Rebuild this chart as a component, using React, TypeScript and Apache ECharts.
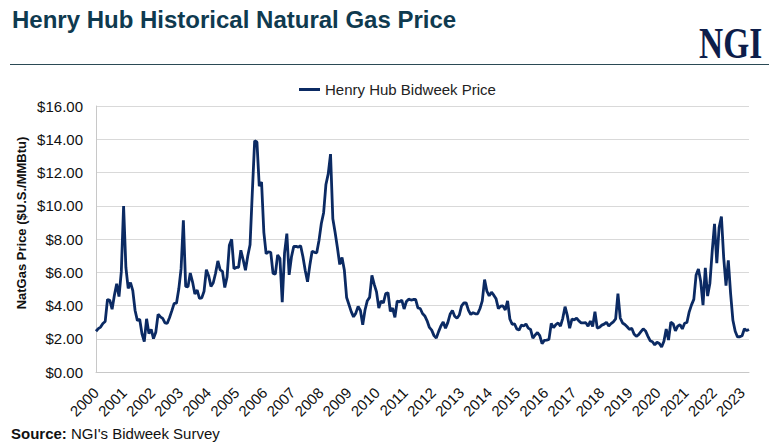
import { useEffect, useRef } from "react";
import * as echarts from "echarts";

// Monthly Henry Hub bidweek prices ($/MMBtu), Jan 2000 – Sep 2023
const p2000 = [2.45, 2.61, 2.7, 2.92, 3.04, 4.36, 4.31, 3.78, 4.62, 5.31, 4.54, 6.02];
const p2001 = [9.98, 6.29, 5.03, 5.38, 4.89, 3.7, 3.09, 3.17, 2.3, 1.83, 3.2, 2.32];
const p2002 = [2.56, 2.01, 2.39, 3.47, 3.32, 3.23, 2.96, 2.93, 3.28, 3.69, 4.13, 4.14];
const p2003 = [4.99, 6.2, 9.13, 5.15, 5.12, 5.95, 5.41, 4.69, 4.93, 4.43, 4.46, 4.86];
const p2004 = [6.15, 5.78, 5.15, 5.37, 5.94, 6.68, 6.14, 6.05, 5.08, 5.72, 7.63, 7.98];
const p2005 = [6.21, 6.29, 6.3, 7.32, 6.75, 6.12, 6.98, 7.65, 10.85, 13.91, 13.83, 11.18];
const p2006 = [11.43, 8.4, 7.11, 7.23, 7.2, 5.93, 5.89, 7.04, 6.82, 4.2, 7.15, 8.32];
const p2007 = [5.84, 6.92, 7.55, 7.56, 7.51, 7.59, 6.93, 6.11, 5.43, 6.42, 7.27, 7.2];
const p2008 = [7.17, 7.93, 8.93, 9.58, 11.28, 11.92, 13.11, 9.22, 8.39, 7.47, 6.47, 6.89];
const p2009 = [6.14, 4.48, 4.06, 3.63, 3.32, 3.54, 3.95, 3.7, 2.84, 3.73, 4.29, 4.49];
const p2010 = [5.81, 5.27, 4.82, 3.84, 4.27, 4.16, 4.72, 4.77, 3.65, 3.84, 3.29, 4.27];
const p2011 = [4.22, 4.32, 3.79, 4.24, 4.38, 4.33, 4.36, 4.37, 3.86, 3.82, 3.52, 3.37];
const p2012 = [3.08, 2.68, 2.52, 2.19, 2.04, 2.43, 2.77, 3.01, 2.63, 2.97, 3.47, 3.7];
const p2013 = [3.35, 3.23, 3.43, 3.98, 4.15, 4.15, 3.71, 3.46, 3.57, 3.5, 3.5, 3.82];
const p2014 = [4.28, 5.56, 4.86, 4.58, 4.8, 4.62, 4.4, 3.81, 3.96, 3.98, 3.73, 4.28];
const p2015 = [3.19, 2.87, 2.9, 2.59, 2.52, 2.82, 2.77, 2.89, 2.64, 2.56, 2.03, 2.23];
const p2016 = [2.37, 2.19, 1.71, 1.9, 1.92, 1.96, 2.92, 2.67, 2.85, 2.95, 2.76, 3.23];
const p2017 = [3.93, 3.39, 2.63, 3.18, 3.14, 3.24, 3.07, 2.96, 2.96, 2.97, 2.75, 3.07];
const p2018 = [2.74, 3.63, 2.64, 2.69, 2.82, 2.88, 2.99, 2.77, 2.91, 3.02, 3.19, 4.72];
const p2019 = [3.25, 2.95, 2.86, 2.72, 2.56, 2.63, 2.29, 2.14, 2.25, 2.43, 2.6, 2.47];
const p2020 = [2.16, 1.88, 1.82, 1.63, 1.79, 1.72, 1.5, 1.85, 2.58, 1.92, 3.0, 2.9];
const p2021 = [2.47, 2.76, 2.85, 2.59, 2.93, 2.98, 3.62, 4.04, 4.37, 5.84, 6.2, 5.45];
const p2022 = [4.02, 6.27, 4.57, 5.34, 7.27, 8.91, 6.55, 8.69, 9.35, 6.87, 5.19, 6.71];
const p2023 = [4.71, 3.11, 2.45, 2.11, 2.12, 2.18, 2.6, 2.49, 2.56];

const yearlyPrices = [
  p2000, p2001, p2002, p2003, p2004, p2005, p2006, p2007, p2008, p2009, p2010, p2011,
  p2012, p2013, p2014, p2015, p2016, p2017, p2018, p2019, p2020, p2021, p2022, p2023,
];
const yearLabels = [
  2000, 2001, 2002, 2003, 2004, 2005, 2006, 2007, 2008, 2009, 2010, 2011,
  2012, 2013, 2014, 2015, 2016, 2017, 2018, 2019, 2020, 2021, 2022, 2023,
];
const yTicks = [0, 2, 4, 6, 8, 10, 12, 14, 16];

const seriesName = "Henry Hub Bidweek Price";
const titleText = "Henry Hub Historical Natural Gas Price";
const yAxisName = "NatGas Price ($U.S./MMBtu)";

const FONT = '"Liberation Sans", Arial, Helvetica, sans-serif';

export default function App() {
  const ref = useRef<HTMLDivElement>(null);

  useEffect(() => {
    if (!ref.current) return;
    const chart = echarts.init(ref.current, null, { renderer: "svg" });

    const months: string[] = [];
    const values: number[] = [];
    yearlyPrices.forEach((arr, yi) => {
      arr.forEach((v, mi) => {
        months.push(`${yearLabels[yi]}-${String(mi + 1).padStart(2, "0")}`);
        values.push(v);
      });
    });

    const option: any = {
      animation: false,
      backgroundColor: "#ffffff",
      textStyle: { fontFamily: FONT },
      grid: { left: 96, right: 20, top: 106, bottom: 71 },
      legend: {
        data: [seriesName],
        left: 294,
        top: 77,
        icon: "rect",
        itemWidth: 21,
        itemHeight: 3,
        textStyle: { fontSize: 15, color: "#222222", fontFamily: FONT },
      },
      xAxis: [
        {
          type: "category",
          data: months,
          boundaryGap: false,
          axisLine: { show: true, lineStyle: { color: "#c8c8c8", width: 1 } },
          axisTick: { show: false },
          axisLabel: { show: false },
          splitLine: { show: false },
        },
        {
          type: "value",
          position: "bottom",
          min: yearLabels[0],
          max: yearLabels[0] + 23.247,
          axisLine: { show: false },
          axisTick: { show: false },
          splitLine: { show: false },
          axisLabel: {
            customValues: yearLabels,
            rotate: 45,
            margin: 18,
            fontSize: 15,
            color: "#111111",
            fontFamily: FONT,
            formatter: (v: number) => String(Math.round(v)),
          },
        },
      ],
      yAxis: {
        type: "value",
        min: yTicks[0],
        max: yTicks[yTicks.length - 1],
        interval: 2,
        axisLine: { show: true, lineStyle: { color: "#c8c8c8", width: 1 } },
        axisTick: { show: false },
        splitLine: { show: true, lineStyle: { color: "#d9d9d9", width: 1 } },
        axisLabel: {
          margin: 13,
          fontSize: 15,
          color: "#111111",
          fontFamily: FONT,
          formatter: (v: number) => "$" + v.toFixed(2),
        },
      },
      series: [
        {
          name: seriesName,
          type: "line",
          xAxisIndex: 0,
          data: values,
          symbol: "none",
          showSymbol: false,
          lineStyle: { color: "#0b2a63", width: 2.8 },
          itemStyle: { color: "#0b2a63" },
        },
      ],
      graphic: [
        {
          type: "text",
          x: 12,
          y: 19,
          style: {
            text: titleText,
            fill: "#0f3a4f",
            font: `bold 24px ${FONT}`,
            textAlign: "left",
            textVerticalAlign: "middle",
          },
        },
        {
          type: "text",
          x: 699,
          y: 43,
          scaleX: 0.76,
          style: {
            text: "NGI",
            fill: "#0d1d4a",
            font: 'bold 44px "Liberation Serif", "Times New Roman", serif',
            textAlign: "left",
            textVerticalAlign: "middle",
          },
        },
        {
          type: "line",
          shape: { x1: 10, y1: 64.5, x2: 769, y2: 64.5 },
          style: { stroke: "#2b4a55", lineWidth: 1 },
        },
        {
          type: "text",
          x: 21,
          y: 223,
          rotation: Math.PI / 2,
          style: {
            text: yAxisName,
            fill: "#111111",
            font: `bold 13px ${FONT}`,
            textAlign: "center",
            textVerticalAlign: "middle",
          },
        },
        {
          type: "text",
          x: 11,
          y: 433,
          style: {
            text: "{b|Source:} NGI's Bidweek Survey",
            fill: "#111111",
            font: `15px ${FONT}`,
            textAlign: "left",
            textVerticalAlign: "middle",
            rich: {
              b: { fontWeight: "bold", fontSize: 15, fontFamily: FONT, fill: "#111111" },
            },
          },
        },
      ],
    };

    chart.setOption(option);
    return () => chart.dispose();
  }, []);

  return (
    <div
      ref={ref}
      style={{ position: "fixed", left: 0, top: 0, width: 769, height: 443 }}
    />
  );
}
